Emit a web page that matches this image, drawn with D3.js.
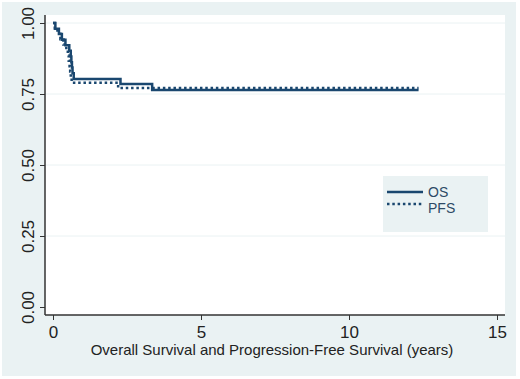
<!DOCTYPE html>
<html><head><meta charset="utf-8">
<script src="https://cdn.jsdelivr.net/npm/d3@7"></script>
<style>html,body{margin:0;padding:0;background:#fff;}svg{display:block;font-family:Arial,"Liberation Sans",sans-serif;}</style>
</head><body>
<svg id="c" width="520" height="379"></svg>
<script>
// Kaplan-Meier step data (time in years, survival proportion)
const osTimes  = [0, 0.08, 0.20, 0.30, 0.42, 0.55, 0.60, 0.62, 0.64, 0.66, 0.70, 2.28, 3.35, 12.35];
const osValues = [1.0, 0.980, 0.961, 0.941, 0.922, 0.902, 0.882, 0.862, 0.843, 0.823, 0.803, 0.785, 0.764, 0.764];
const pfsTimes  = [0, 0.06, 0.15, 0.25, 0.35, 0.45, 0.50, 0.53, 0.56, 0.58, 0.60, 0.63, 2.20, 12.35];
const pfsValues = [1.0, 0.981, 0.962, 0.943, 0.924, 0.905, 0.886, 0.867, 0.848, 0.829, 0.809, 0.790, 0.771, 0.771];
const xTicks = [0, 5, 10, 15];
const yTicks = [0, 0.25, 0.5, 0.75, 1];
const seriesNames = ["OS", "PFS"];
const xTitle = "Overall Survival and Progression-Free Survival (years)";

const svg = d3.select("#c");
const bg = "#eaf2f3", navy = "#1a476f";
svg.append("rect").attr("width",520).attr("height",379).attr("fill","#fff");
svg.append("rect").attr("x",2).attr("y",2).attr("width",514).attr("height",374).attr("fill",bg);

const plot = {l:45, r:505, t:15, b:315};
svg.append("rect").attr("x",plot.l).attr("y",plot.t).attr("width",plot.r-plot.l).attr("height",plot.b-plot.t).attr("fill","#fff");

const x = d3.scaleLinear().domain([0,15]).range([53,497]);
const y = d3.scaleLinear().domain([0,1]).range([307,23]);

// gridlines
svg.append("g").selectAll("line").data(yTicks.filter(d=>d>0)).join("line")
  .attr("x1",plot.l).attr("x2",plot.r).attr("y1",d=>y(d)).attr("y2",d=>y(d))
  .attr("stroke",bg).attr("stroke-width",1);

// axes
const fmt = d3.format(".2f");
const yAx = svg.append("g").attr("transform",`translate(${plot.l},0)`)
  .call(d3.axisLeft(y).tickValues(yTicks).tickFormat(fmt).tickSize(5).tickPadding(6));
yAx.select(".domain").remove();
yAx.selectAll(".tick line").attr("stroke","#333");
yAx.selectAll("text").remove();
yAx.selectAll(".tick").append("text")
  .attr("transform","translate(-17,0) rotate(-90)")
  .attr("text-anchor","middle").attr("dy","0.36em")
  .attr("fill","#222").attr("font-size",17).text(d=>fmt(d));
svg.append("line").attr("x1",plot.l).attr("x2",plot.l).attr("y1",plot.t).attr("y2",plot.b)
  .attr("stroke","#333").attr("stroke-width",1.5);

const xAx = svg.append("g").attr("transform",`translate(0,${plot.b})`)
  .call(d3.axisBottom(x).tickValues(xTicks).tickFormat(d3.format("d")).tickSize(5).tickPadding(6));
xAx.select(".domain").remove();
xAx.selectAll(".tick line").attr("stroke","#333");
xAx.selectAll("text").attr("fill","#222").attr("font-size",17).attr("font-family","Arial,'Liberation Sans',sans-serif");
svg.append("line").attr("x1",plot.l).attr("x2",plot.r).attr("y1",plot.b).attr("y2",plot.b)
  .attr("stroke","#333").attr("stroke-width",1.5);

svg.append("text").attr("x",272).attr("y",355).attr("text-anchor","middle")
  .attr("font-size",15).attr("fill","#222").text(xTitle);

// curves
const line = d3.line().x(d=>x(d[0])).y(d=>y(d[1])).curve(d3.curveStepAfter);
const os = osTimes.map((t,i)=>[t,osValues[i]]);
const pfs = pfsTimes.map((t,i)=>[t,pfsValues[i]]);
svg.append("path").datum(os).attr("d",line).attr("fill","none")
  .attr("stroke",navy).attr("stroke-width",2.5);
svg.append("path").datum(pfs).attr("d",line).attr("fill","none")
  .attr("stroke",navy).attr("stroke-width",2.5).attr("stroke-dasharray","2.5,2.8");

// legend
const lg = svg.append("g");
lg.append("rect").attr("x",383).attr("y",176).attr("width",105).attr("height",56).attr("fill",bg);
const styles = [null, "2.5,2.8"];
const ly = [192, 204];
const ty = [196.5, 213];
seriesNames.forEach((n,i)=>{
  lg.append("line").attr("x1",387).attr("x2",423).attr("y1",ly[i]).attr("y2",ly[i])
    .attr("stroke",navy).attr("stroke-width",2.5).attr("stroke-dasharray",styles[i]);
  lg.append("text").attr("x",428).attr("y",ty[i]).attr("font-size",14).attr("fill","#2d4a66").text(n);
});
</script>
</body></html>
